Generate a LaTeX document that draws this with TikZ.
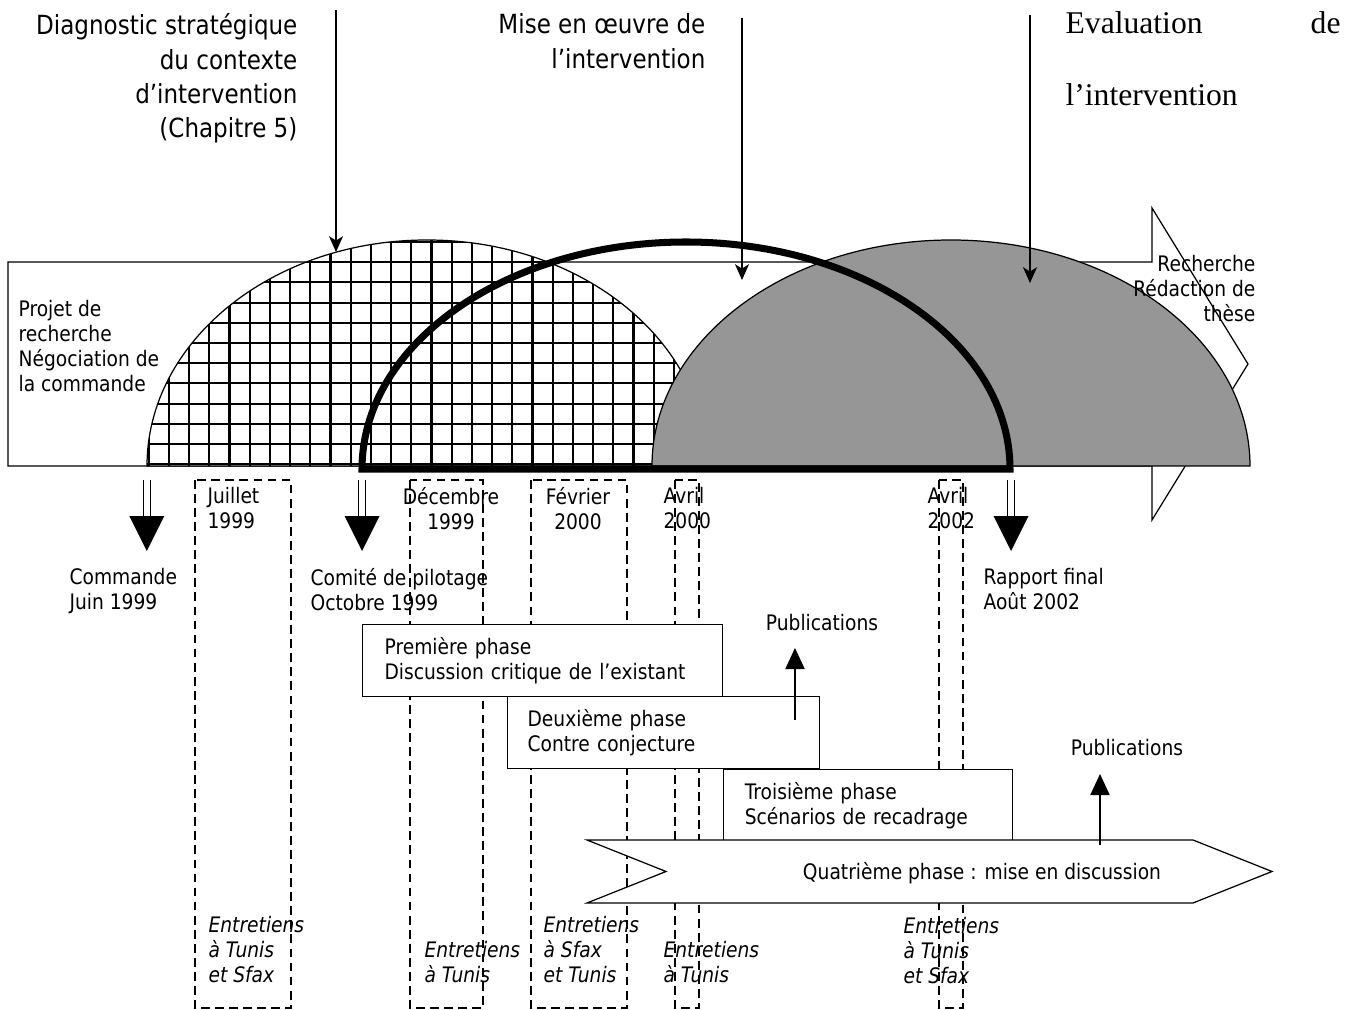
\documentclass[tikz,border=0pt]{standalone}
\usepackage{fontspec}
\setmainfont{DejaVu Sans}[FakeStretch=0.874]
\newfontfamily\evalfont{Liberation Serif}
\usetikzlibrary{arrows.meta, positioning, calc}
\definecolor{domegrey}{RGB}{150,150,150}

\begin{document}
\begin{tikzpicture}[x=0.02cm, y=0.02cm, line width=0.7pt,
        >={Stealth[length=9pt, width=8pt, inset=2.5pt]},
        lbl/.style={inner sep=0pt, align=left, font=\fontsize{12.15pt}{14.2pt}\selectfont},
        toplbl/.style={inner sep=0pt, align=right, anchor=north east, font=\fontsize{15pt}{19.6pt}\selectfont},
        entr/.style={lbl, anchor=north west, font=\fontsize{12.15pt}{14.2pt}\selectfont\itshape},
        phase/.style={lbl, rectangle, draw, fill=white, anchor=north west, minimum height=1.44cm},
        datebox/.style={dashed, dash pattern=on 5pt off 3pt, line width=0.8pt},
        dbl/.style={double, double distance=3.2pt, line width=0.8pt},
        pubarrow/.style={-{Triangle[length=12pt, width=11pt]}}]
        \useasboundingbox (0,0) rectangle (1357,-1010);

        %dashed date boxes
        \draw[datebox] (195,-480) rectangle (291,-1008);
        \draw[datebox] (410,-480) rectangle (483,-1008);
        \draw[datebox] (531,-480) rectangle (627,-1008);
        \draw[datebox] (675,-480) rectangle (699,-1008);
        \draw[datebox] (939,-480) rectangle (963,-1008);

        %big research arrow
        \draw[fill=white] (8,-262) -- (1152,-262) -- (1152,-208) -- (1248,-364) -- (1152,-520) -- (1152,-466) -- (8,-466) -- cycle;

        %hatched dome
        \begin{scope}
            \clip (147,-466) arc[start angle=180, end angle=0, x radius=280, y radius=226] -- cycle;
            \fill[white] (140,-470) rectangle (710,-230);
            \draw[line width=1.2pt, shift={(209.3,-302.6)}, step=20.2] (-80,-180) grid (520,80);
        \end{scope}
        \draw (147,-466) arc[start angle=180, end angle=0, x radius=280, y radius=226] -- cycle;

        %grey dome and thick dome
        \draw[fill=domegrey] (652,-466) arc[start angle=180, end angle=0, x radius=299, y radius=226] -- cycle;
        \draw[line width=4pt] (362,-469) arc[start angle=180, end angle=0, x radius=324, y radius=227] -- cycle;

        \node[toplbl] (diag) at (298,-13) {Diagnostic stratégique\\du contexte\\d’intervention\\(Chapitre 5)};
        \node[toplbl] (mise) at (706,-13) {Mise en œuvre de\\l’intervention};
        \node[inner sep=0pt, anchor=north west, text width=5.5cm, align=left, font=\evalfont\fontsize{18pt}{41pt}\selectfont] (eval) at (1065,-11) {Evaluation\hfill de\\l’intervention};

        \node[lbl, anchor=north west] (projet) at (18,-300) {Projet de\\recherche\\Négociation de\\la commande};
        \node[lbl, anchor=north east, align=right] (rech) at (1256,-255) {Recherche\\Rédaction de\\thèse};

        \node[lbl, anchor=north west] (juil) at (207,-487) {Juillet\\1999};
        \node[lbl, anchor=north, align=center] (dec) at (451,-487) {Décembre\\1999};
        \node[lbl, anchor=north, align=center] (fev) at (578,-487) {Février\\2000};
        \node[lbl, anchor=north west] (avr0) at (663,-487) {Avril\\2000};
        \node[lbl, anchor=north west] (avr2) at (927,-487) {Avril\\2002};

        \node[lbl, anchor=north west] (cmd) at (69,-568) {Commande\\Juin 1999};
        \node[lbl, anchor=north west] (comite) at (310,-568) {Comité de pilotage\\Octobre 1999};
        \node[lbl, anchor=north west] (rapport) at (983,-568) {Rapport final\\Août 2002};

        \node[entr] (e1) at (208,-916) {Entretiens\\à Tunis\\et Sfax};
        \node[entr] (e2) at (424,-941) {Entretiens\\à Tunis};
        \node[entr] (e3) at (543,-916) {Entretiens\\à Sfax\\et Tunis};
        \node[entr] (e4) at (663,-941) {Entretiens\\à Tunis};
        \node[entr] (e5) at (903,-917) {Entretiens\\à Tunis\\et Sfax};

        %phases
        \node[phase, text width=6.32cm, inner xsep=0.44cm] (p1) at (362,-624) {Première phase\\Discussion critique de l’existant};
        \node[phase, text width=5.44cm, inner xsep=0.40cm] (p2) at (507,-696) {Deuxième phase\\Contre conjecture};
        \node[phase, text width=4.94cm, inner xsep=0.42cm] (p3) at (p1.east |- p2.south) {Troisième phase\\Scénarios de recadrage};
        \draw[fill=white] (587,-840) -- (1193,-840) -- (1272,-871.5) -- (1193,-903) -- (587,-903) -- (666,-871.5) -- cycle;
        \node[lbl] (p4) at (982,-873) {Quatrième phase : mise en discussion};

        %publications
        \coordinate (pb1) at (795,-720);
        \coordinate (pb2) at (1100,-845);
        \node[lbl, anchor=south, inner ysep=9.7pt] (pub1) at (822,-648) {Publications};
        \node[lbl, anchor=south, inner ysep=10.2pt] (pub2) at (1127,-774) {Publications};
        \draw[pubarrow] (pb1) -- (pb1 |- pub1.south);
        \draw[pubarrow] (pb2) -- (pb2 |- pub2.south);

        % Draw top arrows
        \coordinate (diagA) at (336,-10);
        \coordinate (diagB) at (336,-252);
        \coordinate (miseA) at (742,-18);
        \coordinate (miseB) at (742,-280);
        \coordinate (evalA) at (1030,-15);
        \coordinate (evalB) at (1030,-283);
        \draw[->] (diagA) -- (diagB);
        \draw[->] (miseA) -- (miseB);
        \draw[->] (evalA) -- (evalB);

        % Draw double arrows
        \coordinate (c0) at (146.8,-480);
        \coordinate (c1) at (362,-480);
        \coordinate (c2) at (1011,-480);
        \draw[dbl] (c0) -- ++(0,-37);
        \draw[dbl] (c1) -- ++(0,-37);
        \draw[dbl] (c2) -- ++(0,-37);
        \fill (c0) ++(-17.5,-36) -- ++(35,0) -- ++(-17.5,-35) -- cycle;
        \fill (c1) ++(-17.5,-36) -- ++(35,0) -- ++(-17.5,-35) -- cycle;
        \fill (c2) ++(-17.5,-36) -- ++(35,0) -- ++(-17.5,-35) -- cycle;

    \end{tikzpicture}
\end{document}
